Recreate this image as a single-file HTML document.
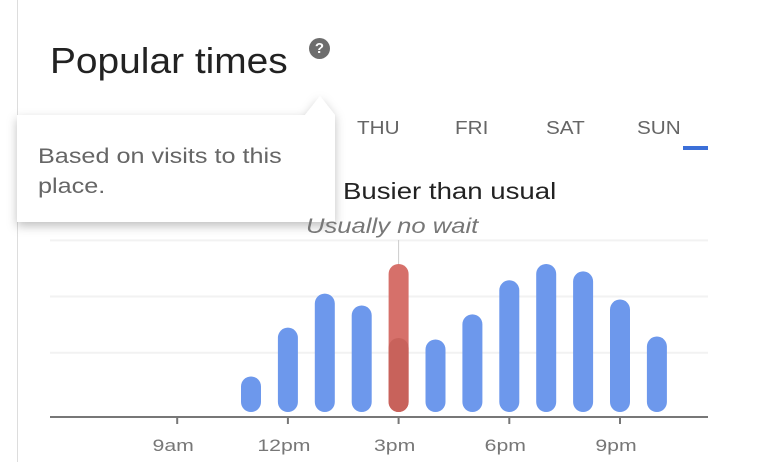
<!DOCTYPE html>
<html><head><meta charset="utf-8"><style>
body{margin:0;width:764px;height:476px;background:#fff;overflow:hidden;font-family:"Liberation Sans",sans-serif;position:relative}
.abs{position:absolute;transform-origin:0 0;white-space:nowrap}
</style></head><body>
<div class="abs" style="left:17px;top:0;width:1px;height:462px;background:#ddd"></div>
<div class="abs" style="left:50px;top:40px;font-size:36px;color:#222;transform:scaleX(1.08)">Popular times</div>
<div class="abs" style="left:309px;top:38px;width:21px;height:21px;border-radius:50%;background:#6d6d6d;color:#fff;font-size:15px;font-weight:bold;text-align:center;line-height:21px">?</div>
<svg class="abs" style="left:0;top:0" width="764" height="476">
<defs><filter id="sh" x="-10%" y="-10%" width="130%" height="140%"><feDropShadow dx="0" dy="4" stdDeviation="5" flood-opacity="0.25"/></filter></defs>
<g id="chart"></g>
<path d="M17 115 L305 115 L320 96 L335 115 L335 222 L17 222 Z" fill="#fff" filter="url(#sh)"/>
</svg>
<div class="abs" style="left:38px;top:142px;font-size:21px;color:#666;line-height:30px;transform:scaleX(1.2)">Based on visits to this<br>place.</div>
<div class="abs" style="left:357px;top:118px;font-size:18px;color:#666;transform:scaleX(1.15)">THU</div>
<div class="abs" style="left:455px;top:118px;font-size:18px;color:#666;transform:scaleX(1.15)">FRI</div>
<div class="abs" style="left:546px;top:118px;font-size:18px;color:#666;transform:scaleX(1.15)">SAT</div>
<div class="abs" style="left:637px;top:118px;font-size:18px;color:#666;transform:scaleX(1.15)">SUN</div>
<div class="abs" style="left:683px;top:146px;width:25px;height:4px;background:#3b6fd8"></div>
<div class="abs" style="left:343px;top:178px;font-size:23px;color:#222;transform:scaleX(1.2)">Busier than usual</div>
<div class="abs" style="left:306px;top:215px;font-size:21px;color:#777;font-style:italic;transform:scaleX(1.22)">Usually no wait</div>
<script>
const hours=[11,12,13,14,15,16,17,18,19,20,21,22];
const values=[24,57,80,72,100,49,66,89,100,95,76,51];
const liveHour=15;
const usualLive=50;
const tickHours=[9,12,15,18,21];
const tickLabels=["9am","12pm","3pm","6pm","9pm"];
const gridVals=[0.4,0.78,1.16];
const NS="http://www.w3.org/2000/svg";
const g=document.getElementById('chart');
const x=h=>251+(h-11)*36.9;
const base=412;
const y=v=>base-v*1.48;
function mk(t,a){const e=document.createElementNS(NS,t);for(const k in a)e.setAttribute(k,a[k]);g.appendChild(e);return e;}
gridVals.forEach(f=>{const yy=y(f*100);const l=mk('line',{x1:50,x2:708,y1:yy,y2:yy,stroke:'#f2f2f2','stroke-width':2});

});
mk('line',{x1:x(liveHour),x2:x(liveHour),y1:240,y2:265,stroke:'#ccc','stroke-width':1});
const ax=mk('line',{x1:50,x2:708,y1:417,y2:417,stroke:'#777','stroke-width':2});


tickHours.forEach((h,i)=>{mk('line',{x1:x(h),x2:x(h),y1:417,y2:424,stroke:'#777','stroke-width':2});
const t=mk('text',{x:0,y:451,'text-anchor':'middle','font-size':17,fill:'#777','font-family':'Liberation Sans, sans-serif',transform:'translate('+(x(h)-4)+',0) scale(1.25,1)'});
t.textContent=tickLabels[i];

});
hours.forEach((h,i)=>{const live=h===liveHour;const top=y(values[i]);
const r=mk('rect',{x:x(h)-10,y:top,width:20,height:base-top,rx:10,fill:live?'#d6706a':'#6d98ec'});


if(live){const u=y(usualLive);const o=mk('rect',{x:x(h)-10,y:u,width:20,height:base-u,rx:10,fill:'#c8625b'});

}});
</script>
</body></html>
